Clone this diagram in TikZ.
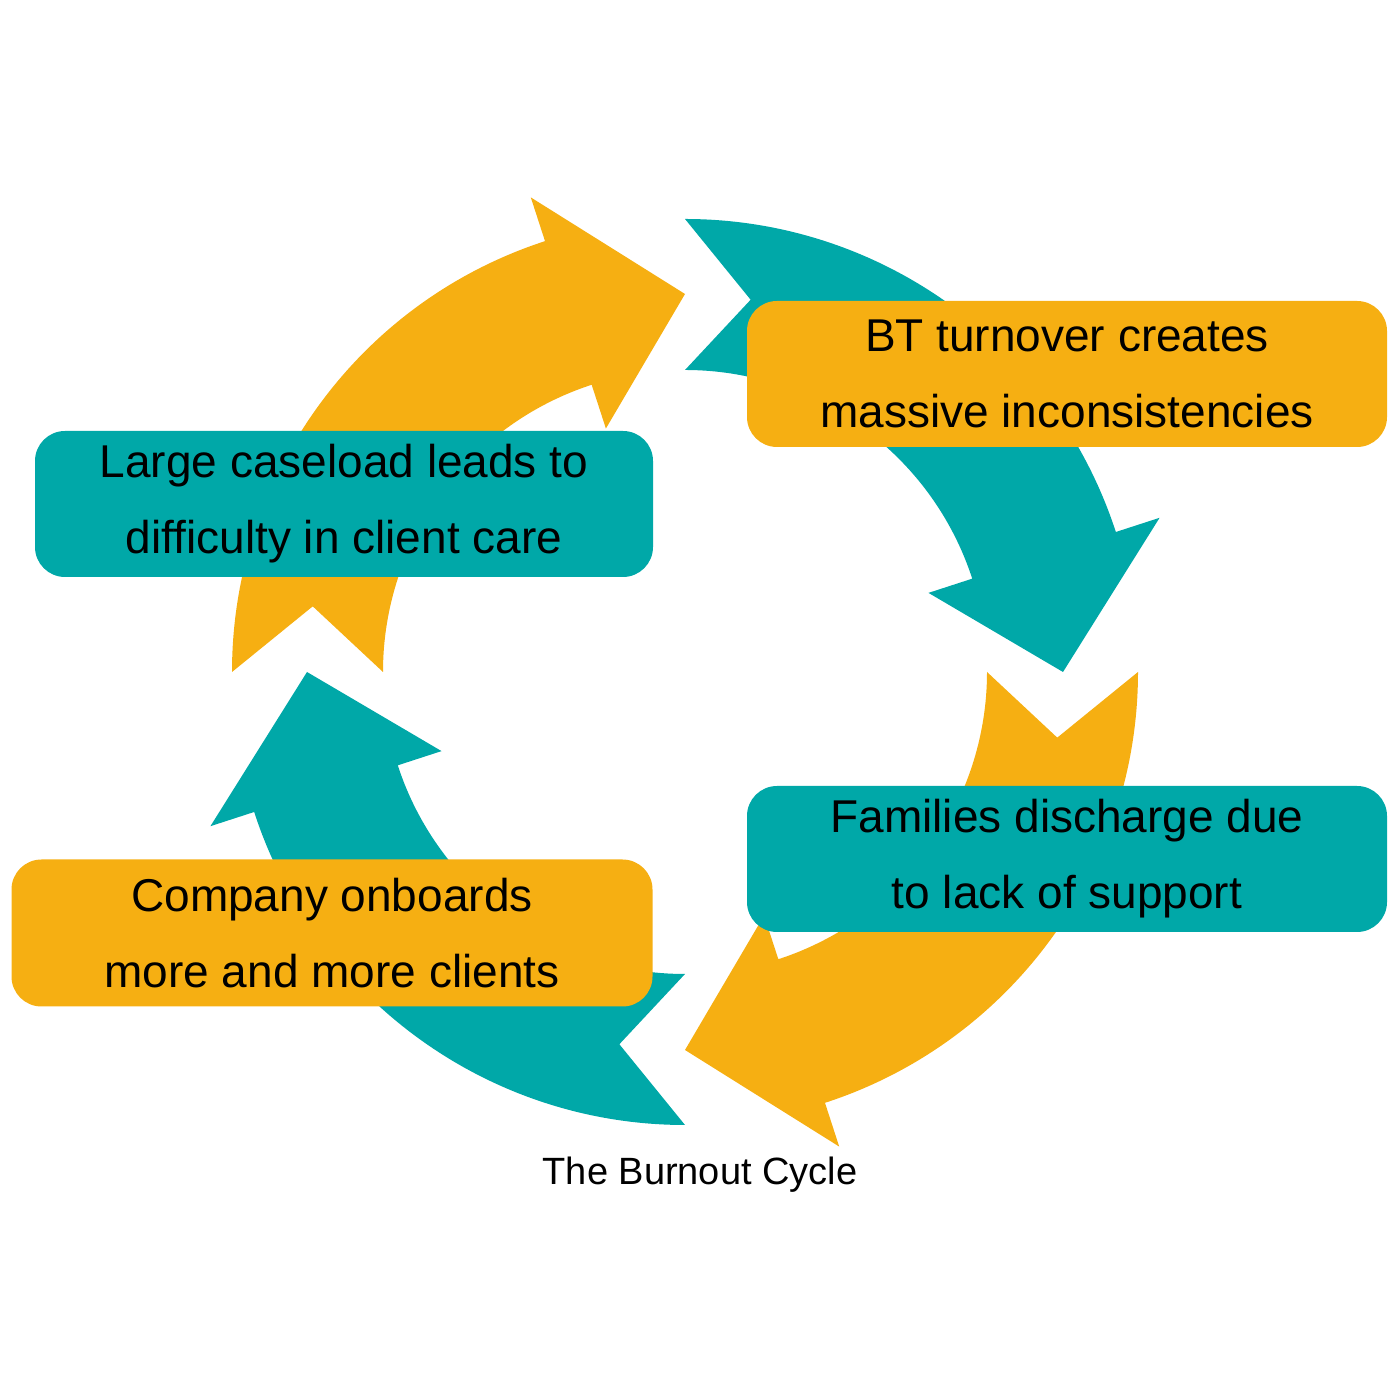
\documentclass[tikz,border=0pt]{standalone}
\usepackage{fontspec}
\setmainfont{Liberation Sans}
\usetikzlibrary{calc}
\definecolor{org}{HTML}{F6AF12}
\definecolor{tea}{HTML}{00A8A8}
\begin{document}
\begin{tikzpicture}[x=1pt,y=1pt,
  box/.style={rounded corners=30pt,minimum width=640pt,minimum height=146pt,align=center,inner sep=0pt,font=\fontsize{46}{76}\selectfont}]
\useasboundingbox (0,0) rectangle (1400,1400);
\coordinate (c) at (685,728);
\def\cyc#1#2{\fill[#2] ($(c)+(#1:453)$) arc[start angle=#1,delta angle=-72,radius=453]
  -- ($(c)+(#1-72:499)$) -- ($(c)+(#1-90:378)$) -- ($(c)+(#1-72:256)$)
  -- ($(c)+(#1-72:302)$) arc[start angle=#1-72,delta angle=72,radius=302]
  -- ($(c)+(#1-10:378)$) -- cycle;}
\cyc{180}{org}
\cyc{90}{tea}
\cyc{0}{org}
\cyc{-90}{tea}
\node[box,fill=org] (bt) at (1067,1026) {BT turnover creates\\massive inconsistencies};
\node[box,fill=tea,minimum width=618pt] (lc) at (344,896) {Large caseload leads to\\difficulty in client care};
\node[box,fill=tea] (fd) at (1067,541) {Families discharge due\\to lack of support};
\node[box,fill=org,minimum width=641pt,minimum height=147pt] (co) at (332,467) {Company onboards\\more and more clients};
\node[font=\fontsize{38}{44}\selectfont] (cap) at (700,225) {The Burnout Cycle};
\end{tikzpicture}
\end{document}
